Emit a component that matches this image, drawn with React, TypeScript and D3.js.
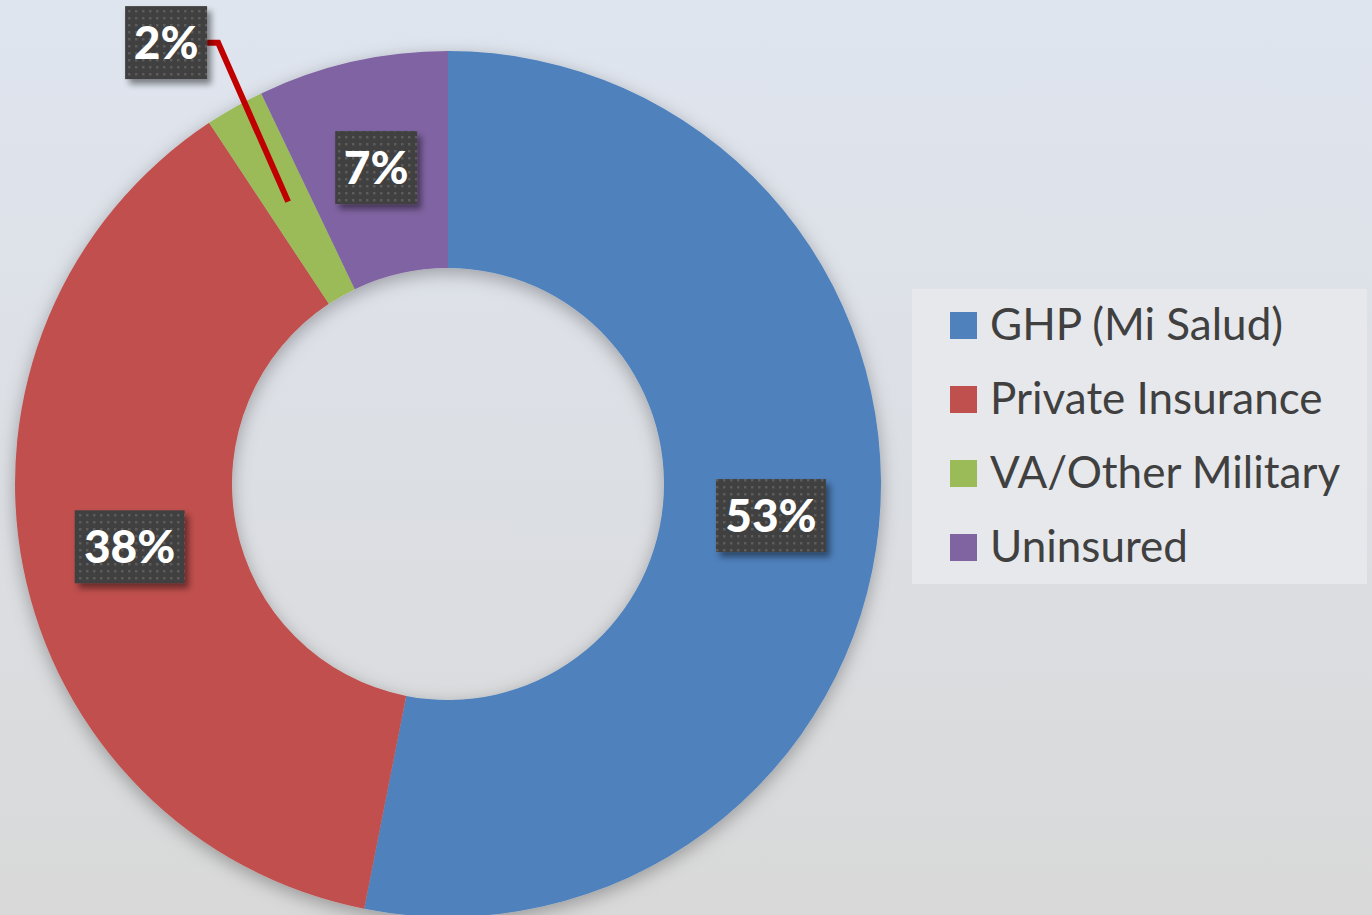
import * as d3 from 'd3';

// Coverage shares (percent)
const categories = ['GHP (Mi Salud)', 'Private Insurance', 'VA/Other Military', 'Uninsured'];
const shares = [53.1, 37.6, 2.2, 7.1];
const labels = ['53%', '38%', '2%', '7%'];
const colors = ['#4f81bd', '#c0504d', '#9bbb59', '#8064a2'];

const width = 1372;
const height = 915;
const cx = 448;
const cy = 484;
const outerR = 433;
const innerR = 216;

// the small slice's label is pulled out of the ring with a leader line
const labelOffsets: [number, number][] = [[0, 0], [0, 0], [-122, -159], [0, 0]];

export default function App() {
  const pie = d3.pie<number>().sort(null).value((d) => d);
  const arcs = pie(shares);
  const arc = d3.arc<d3.PieArcDatum<number>>().innerRadius(innerR).outerRadius(outerR);

  const fontFamily = 'Lato, "Open Sans", sans-serif';

  return (
    <svg width={width} height={height} style={{ position: 'absolute', left: 0, top: 0, display: 'block' }}>
      <defs>
        <linearGradient id="bg" x1="0" y1="0" x2="0" y2="1">
          <stop offset="0" stopColor="#dfe5ef" />
          <stop offset="1" stopColor="#d9d9d9" />
        </linearGradient>
        <filter id="ringShadow" x="-20%" y="-20%" width="140%" height="140%">
          <feDropShadow dx="0" dy="5" stdDeviation="9" floodColor="#000" floodOpacity="0.3" />
        </filter>
        <filter id="boxShadow" x="-20%" y="-20%" width="150%" height="150%">
          <feDropShadow dx="4" dy="5" stdDeviation="3" floodColor="#000" floodOpacity="0.45" />
        </filter>
        <pattern id="dots" width="7" height="7" patternUnits="userSpaceOnUse">
          <rect width="7" height="7" fill="#404040" />
          <rect x="2" y="2" width="2.5" height="2.5" fill="#5c5c5c" />
        </pattern>
      </defs>
      <rect width={width} height={height} fill="url(#bg)" />

      <g transform={`translate(${cx},${cy})`}>
        <g filter="url(#ringShadow)">
          {arcs.map((a, i) => (
            <path key={i} d={arc(a) || ''} fill={colors[i]} />
          ))}
        </g>

        {arcs.map((a, i) => {
          const [x, y] = arc.centroid(a);
          const [dx, dy] = labelOffsets[i];
          const lx = x + dx;
          const ly = y + dy;
          const w = labels[i].length === 2 ? 82 : 110;
          const h = 73;
          const leader = dx !== 0 || dy !== 0;
          return (
            <g key={i}>
              {leader && (
                <path
                  d={`M${lx + w / 2},${ly}H${lx + w / 2 + 11}L${x},${y}`}
                  fill="none"
                  stroke="#c00000"
                  strokeWidth={6}
                />
              )}
              <rect
                x={lx - w / 2}
                y={ly - h / 2}
                width={w}
                height={h}
                fill="url(#dots)"
                filter="url(#boxShadow)"
              />
              <text
                x={lx}
                y={ly + 16}
                textAnchor="middle"
                fill="#ffffff"
                fontFamily={fontFamily}
                fontWeight="900"
                fontSize={46}
              >
                {labels[i]}
              </text>
            </g>
          );
        })}
      </g>

      <g transform="translate(912,289)">
        <rect width={455} height={295} fill="#e7e8eb" />
        {categories.map((c, i) => (
          <g key={c} transform={`translate(38,${23 + i * 74})`}>
            <rect width={27} height={27} fill={colors[i]} />
            <text x={40} y={28} fill="#404040" fontFamily={fontFamily} fontSize={44}>
              {c}
            </text>
          </g>
        ))}
      </g>
    </svg>
  );
}
